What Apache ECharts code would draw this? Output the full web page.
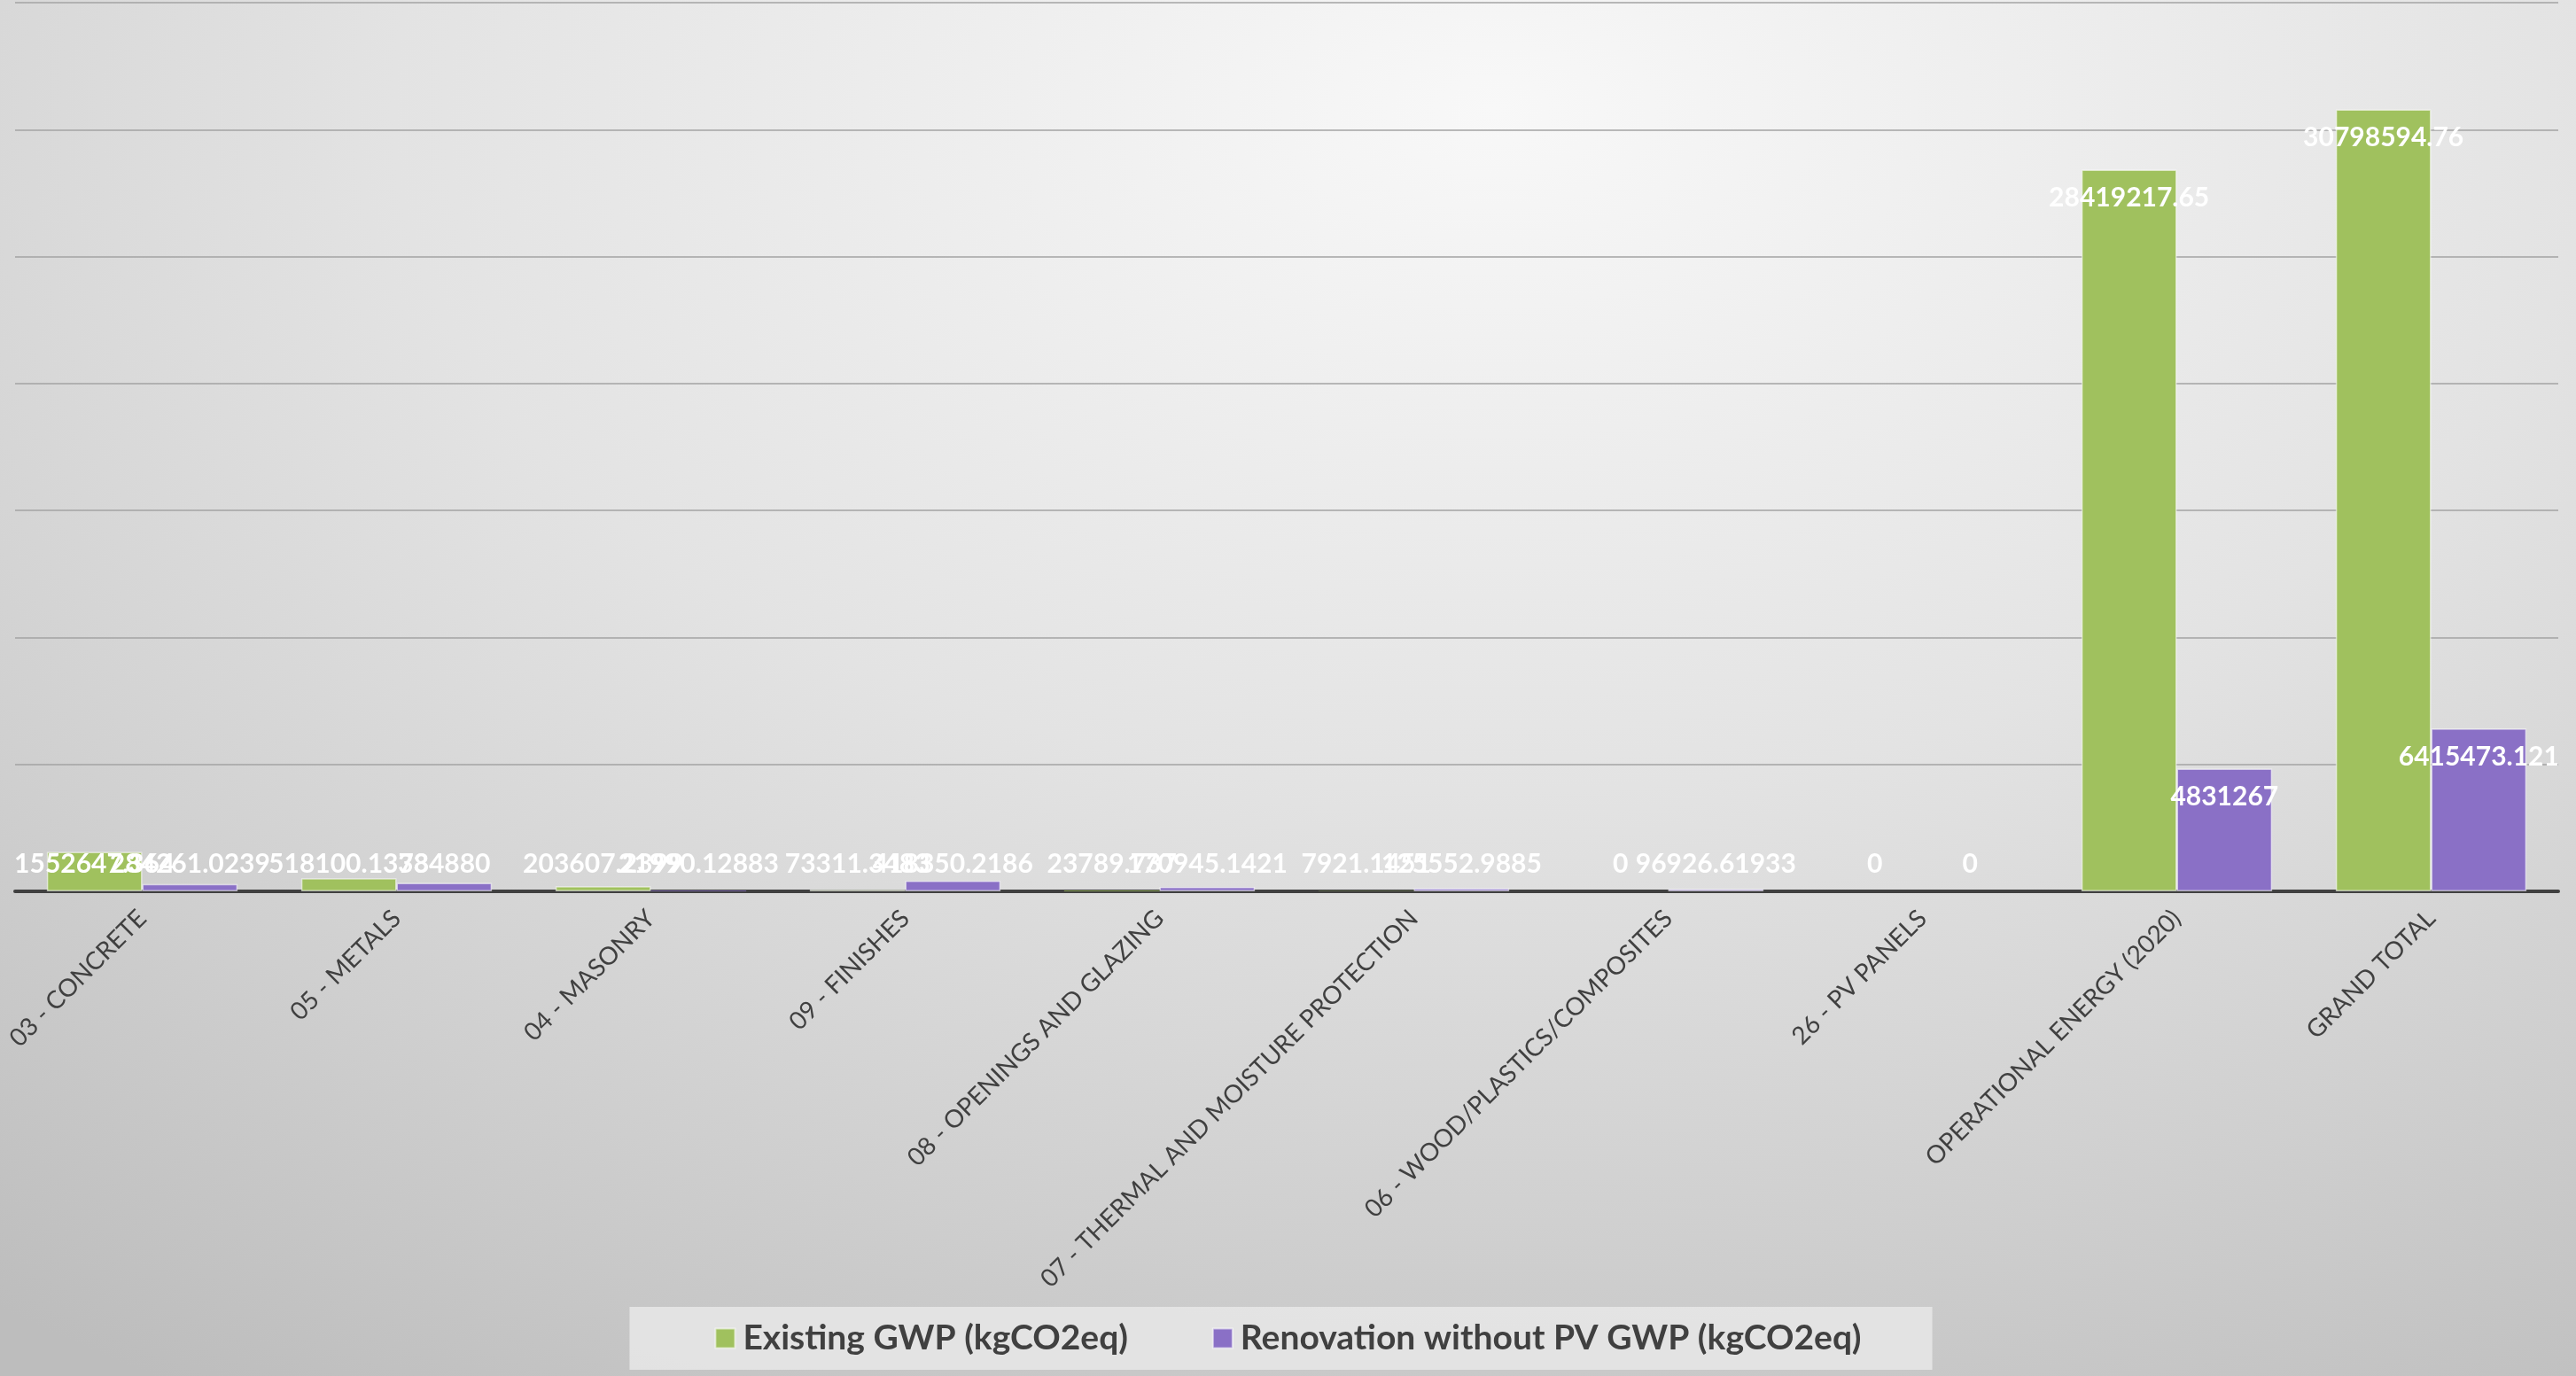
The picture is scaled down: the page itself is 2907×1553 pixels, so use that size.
<!DOCTYPE html>
<html>
<head>
<meta charset="utf-8">
<script src="https://cdn.jsdelivr.net/npm/echarts@6/dist/echarts.min.js"></script>
<style>
  html, body { margin: 0; padding: 0; }
  body {
    width: 2907px; height: 1553px; overflow: hidden;
    background: radial-gradient(ellipse 95% 110% at 58% 8%, #f8f8f8 0%, #e3e3e3 45%, #cfcfcf 75%, #bdbdbd 100%);
  }
  #chart { width: 2907px; height: 1553px; }
</style>
</head>
<body>
<div id="chart"></div>
<script>
// Categories of the GWP breakdown
const categories = [
  '03 - CONCRETE',
  '05 - METALS',
  '04 - MASONRY',
  '09 - FINISHES',
  '08 - OPENINGS AND GLAZING',
  '07 - THERMAL AND MOISTURE PROTECTION',
  '06 - WOOD/PLASTICS/COMPOSITES',
  '26 - PV PANELS',
  'OPERATIONAL ENERGY (2020)',
  'GRAND TOTAL'
];

// Existing building, kgCO2eq
const existingGWP = [
  1552647.364, 518100.1378, 203607.2399, 73311.3483, 23789.737,
  7921.1451, 0, 0, 28419217.65, 30798594.76
];

// Renovation without PV, kgCO2eq
const renovationGWP = [
  284261.0239, 334880, 21990.12883, 418350.2186, 170945.1421,
  125552.9885, 96926.61933, 0, 4831267, 6415473.121
];

const seriesNames = ['Existing GWP (kgCO2eq)', 'Renovation without PV GWP (kgCO2eq)'];
const seriesColors = ['#a0c15e', '#8a70c6'];

// Tall bars carry their value inside the top; short ones sit just above the axis.
// Bars too thin to see get no outline, so nothing is drawn along the axis.
function barData(values) {
  return values.map(v => ({
    value: v,
    itemStyle: v < 60000 ? { borderWidth: 0 } : {},
    label: v > 2000000
      ? { position: 'insideTop', distance: 17 }
      : { position: 'insideBottom', distance: 16 }
  }));
}

const chart = echarts.init(document.getElementById('chart'), null, { renderer: 'canvas' });

const labelStyle = {
  show: true,
  color: '#ffffff',
  fontFamily: 'Lato',
  fontWeight: 'bold',
  fontSize: 30,
  formatter: p => String(p.value)
};

chart.setOption({
  backgroundColor: 'transparent',
  animation: false,
  grid: { left: 17, right: 20, top: 3, bottom: 547, containLabel: false },
  legend: {
    data: seriesNames,
    bottom: 7,
    left: 'center',
    icon: 'rect',
    itemWidth: 22,
    itemHeight: 22,
    itemGap: 95,
    padding: [16, 80, 16, 96],
    backgroundColor: 'rgba(232,232,232,0.85)',
    textStyle: {
      color: '#404040',
      fontFamily: 'Lato',
      fontWeight: 'bold',
      fontSize: 39,
      padding: [0, 0, 0, 4]
    }
  },
  xAxis: {
    type: 'category',
    data: categories,
    axisLine: { show: true, lineStyle: { color: '#404040', width: 4 } },
    axisTick: { show: false },
    axisLabel: {
      interval: 0,
      rotate: 45,
      margin: 26,
      color: '#404040',
      fontFamily: 'Lato',
      fontSize: 28
    }
  },
  yAxis: {
    type: 'value',
    min: 0,
    max: 35000000,
    interval: 5000000,
    axisLine: { show: false },
    axisTick: { show: false },
    axisLabel: { show: false },
    splitLine: { show: true, lineStyle: { color: '#a3a3a3', width: 1.5 } }
  },
  series: [
    {
      name: seriesNames[0],
      type: 'bar',
      data: barData(existingGWP),
      barGap: '0%',
      barCategoryGap: '25%',
      itemStyle: { color: seriesColors[0], borderColor: 'rgba(255,255,255,0.55)', borderWidth: 1.5 },
      label: labelStyle
    },
    {
      name: seriesNames[1],
      type: 'bar',
      data: barData(renovationGWP),
      barGap: '0%',
      barCategoryGap: '25%',
      itemStyle: { color: seriesColors[1], borderColor: 'rgba(255,255,255,0.55)', borderWidth: 1.5 },
      label: labelStyle
    }
  ]
});
</script>
</body>
</html>
